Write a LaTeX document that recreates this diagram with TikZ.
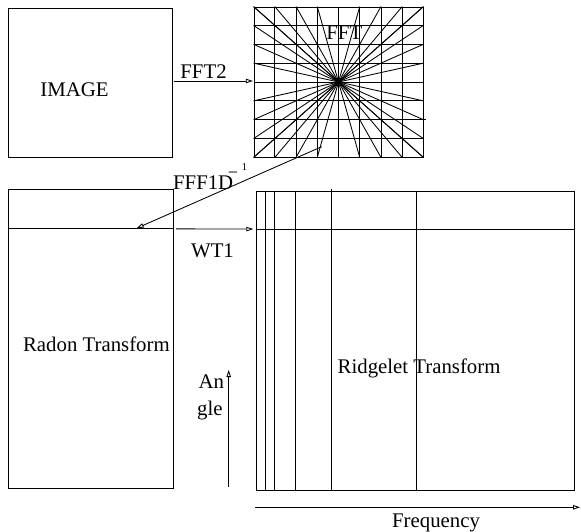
\documentclass[tikz,border=0pt]{standalone}
\usepackage{fontspec}
\setmainfont{Liberation Serif}
\usetikzlibrary{arrows.meta,calc}
\begin{document}
\begin{tikzpicture}[x=1pt,y=-1pt, line width=0.85pt,
 box/.style={draw, rectangle, inner sep=0pt},
 lbl/.style={inner sep=0pt, anchor=base west, font=\fontsize{20.8}{24}\selectfont},
 arr/.style={-{Triangle[open,length=7pt,width=4.5pt]}}]
\useasboundingbox (0,0) rectangle (581,532);
% boxes
\node[box, minimum width=164pt, minimum height=149pt] (img) at (90,82.5) {};
\node[box, minimum width=169pt, minimum height=150pt] (fft) at (338.5,82) {};
\node[box, minimum width=165.3pt, minimum height=299.3pt] (rad) at (90.65,338.65) {};
\node[box, minimum width=317.3pt, minimum height=299pt] (rid) at (415.35,340.5) {};
% FFT grid
\foreach \i in {1,...,7} {
  \draw ($(fft.north west)!\i/8!(fft.north east)$) -- ($(fft.south west)!\i/8!(fft.south east)$);
  \draw ($(fft.north west)!\i/8!(fft.south west)$) -- ($(fft.north east)!\i/8!(fft.south east)$);
}
\foreach \i in {0,...,8} {
  \draw ($(fft.north west)!\i/8!(fft.north east)$) -- ($(fft.south east)!\i/8!(fft.south west)$);
  \draw ($(fft.north west)!\i/8!(fft.south west)$) -- ($(fft.south east)!\i/8!(fft.north east)$);
}
\draw ($(fft.north east)!6/8!(fft.south east)$) -- ++(3,0);
% Radon row
\draw ($(rad.north west)+(0,40.3)$) -- ($(rad.north east)+(0,40.3)$);
% Ridgelet grid
\draw ($(rid.north west)+(0,39)$) -- ($(rid.north east)+(0,39)$);
\foreach \d in {9,18.3,39} \draw ($(rid.north west)+(\d,0)$) -- ($(rid.south west)+(\d,0)$);
\draw ($(rid.north west)+(75,-2)$) -- ($(rid.south west)+(75,0)$);
\draw ($(rid.north west)+(160.6,0)$) -- ($(rid.south west)+(160.6,1)$);
% connectors
\draw[arr, shorten <=1.5pt, shorten >=0.7pt] (img.east |- 0,81) -- (fft.west |- 0,81);
\coordinate (ifs) at (321.7,146.7);
\coordinate (ife) at (136.7,228.2);
\draw[arr] (ifs) -- (ife);
\draw[arr] ($(rad.north east)+(2.4,40.3)$) -- ($(rid.north west)+(-3,38.5)$);
\coordinate (ang0) at (228.7,486.7);
\coordinate (ang1) at (228.7,370);
\draw[arr] (ang0) -- (ang1);
\coordinate (fr0) at (255,507.3);
\coordinate (fr1) at (580,507.3);
\draw[arr] (fr0) -- (fr1);
% labels
\node[lbl] (timg) at (40,96.7) {IMAGE};
\node[lbl] (tfft2) at (180,78.3) {FFT2};
\node[lbl] (tfft) at (326,39.3) {FFT};
\node[lbl] (tifft) at (172.7,189.3) {FFF1D\kern-5.5pt\raisebox{10.5pt}{\fontsize{18}{18}\selectfont −}\kern4pt\raisebox{18.6pt}{\fontsize{10.5}{10.5}\selectfont 1}};
\node[lbl] (trad) at (22.7,351.7) {Radon Transform};
\node[lbl] (twt) at (190.7,257.7) {WT1};
\node[lbl] (tan) at (198.3,388.3) {An};
\node[lbl] (tgle) at (196.7,415.7) {gle};
\node[lbl] (trid) at (337.3,373.3) {Ridgelet Transform};
\node[lbl] (tfreq) at (391.7,527.3) {Frequency};
\end{tikzpicture}
\end{document}
